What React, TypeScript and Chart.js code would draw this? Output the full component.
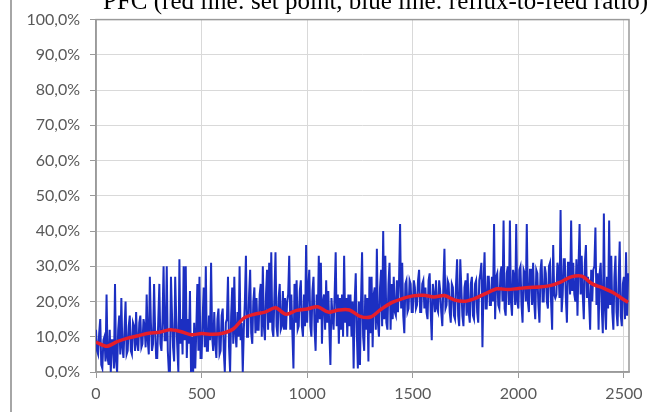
import { useEffect, useRef } from "react";
import { Chart, registerables } from "chart.js";

Chart.register(...registerables);

const TITLE = "PFC (red line: set point, blue line: reflux-to-feed ratio)";

// Reflux-to-feed ratio (%), one sample every X_STEP time units starting at 0
const X_STEP = 5;
const refluxRatio = [
  12, 6, 5, 11, 15, 2, 1, 9, 10, 3, 22, 4, 2, 12, 0, 9, 9, 1, 25, 3,
  0, 12, 16, 5, 21, 7, 4, 12, 20, 5, 6, 13, 16, 6, 5, 14, 13, 6, 17, 8,
  6, 14, 16, 7, 8, 15, 13, 7, 22, 9, 5, 27, 14, 6, 8, 25, 12, 4, 4, 15,
  25, 8, 6, 15, 30, 9, 9, 30, 6, 0, 0, 27, 16, 7, 3, 27, 15, 7, 0, 32,
  8, 15, 5, 30, 9, 30, 4, 15, 8, 23, 0, 10, 0, 14, 1, 12, 25, 6, 27, 4,
  4, 15, 24, 7, 30, 6, 6, 16, 9, 31, 10, 6, 17, 8, 4, 15, 18, 5, 6, 16,
  18, 6, 0, 14, 15, 27, 7, 0, 16, 24, 8, 27, 11, 7, 17, 10, 30, 9, 14, 0,
  12, 20, 33, 10, 10, 22, 29, 11, 8, 20, 24, 11, 21, 12, 12, 22, 25, 10, 30, 13,
  9, 22, 29, 12, 31, 14, 34, 12, 10, 22, 34, 13, 10, 21, 25, 12, 13, 23, 12, 21,
  12, 20, 22, 33, 12, 22, 11, 1, 25, 14, 26, 12, 13, 23, 26, 13, 10, 22, 13, 36,
  14, 24, 29, 13, 10, 23, 27, 12, 6, 22, 14, 33, 15, 31, 8, 20, 22, 12, 26, 14,
  23, 12, 2, 21, 16, 12, 22, 34, 13, 22, 8, 21, 12, 22, 10, 33, 14, 21, 10, 22,
  13, 22, 10, 20, 1, 20, 28, 11, 1, 20, 2, 20, 34, 10, 6, 22, 12, 21, 3, 27,
  11, 27, 7, 22, 24, 12, 35, 14, 10, 24, 29, 13, 40, 15, 33, 14, 12, 25, 31, 12,
  25, 15, 27, 17, 16, 26, 17, 26, 42, 18, 31, 16, 11, 25, 26, 17, 18, 26, 25, 17,
  17, 26, 24, 18, 19, 26, 29, 17, 17, 25, 26, 18, 24, 17, 15, 26, 28, 17, 9, 25,
  22, 17, 26, 18, 17, 26, 23, 17, 13, 25, 35, 18, 19, 26, 25, 17, 14, 25, 24, 16,
  15, 25, 32, 16, 13, 32, 24, 16, 13, 24, 26, 16, 28, 17, 14, 25, 27, 16, 15, 25,
  26, 17, 14, 26, 28, 31, 7, 25, 34, 18, 18, 27, 27, 19, 19, 27, 20, 42, 15, 27,
  28, 19, 18, 28, 30, 20, 43, 18, 16, 28, 30, 19, 43, 20, 16, 29, 27, 19, 42, 20,
  18, 29, 30, 19, 14, 29, 28, 20, 42, 20, 17, 29, 29, 19, 31, 20, 15, 29, 28, 19,
  14, 29, 32, 20, 20, 30, 28, 20, 18, 30, 31, 20, 12, 36, 22, 21, 22, 31, 29, 21,
  46, 17, 22, 32, 32, 21, 14, 31, 31, 22, 43, 23, 31, 22, 20, 32, 16, 30, 42, 22,
  33, 22, 15, 31, 36, 21, 27, 20, 12, 29, 20, 29, 30, 41, 19, 28, 12, 28, 31, 18,
  11, 45, 18, 12, 27, 18, 43, 19, 33, 17, 12, 27, 33, 17, 13, 26, 37, 16, 13, 25,
  27, 15, 34, 16, 28,
];

// Set point (%), sampled at setPointX
const setPointX = [
  0, 50, 100, 150, 200, 250, 300, 350, 400, 450,
  500, 550, 600, 650, 700, 750, 800, 850, 900, 950,
  1000, 1050, 1100, 1150, 1200, 1250, 1300, 1350, 1400, 1450,
  1500, 1550, 1600, 1650, 1700, 1750, 1800, 1850, 1900, 1950,
  2000, 2050, 2100, 2150, 2200, 2250, 2300, 2350, 2400, 2450,
  2500, 2520,
];
const setPointY = [
  8.5, 7.3, 8.6, 9.6, 10.3, 11.0, 11.3, 12.0, 11.5, 10.6,
  10.9, 10.7, 11.0, 12.2, 15.3, 16.4, 17.0, 18.2, 16.4, 17.5,
  17.9, 18.5, 17.0, 17.6, 17.6, 15.8, 15.6, 17.8, 19.7, 20.8,
  21.6, 21.8, 21.3, 21.7, 20.4, 20.1, 21.0, 22.4, 23.6, 23.4,
  23.7, 24.0, 24.1, 24.5, 25.5, 27.0, 27.2, 25.0, 23.9, 22.5,
  20.5, 19.8,
];

const X_MAX = 2524;
const X_TICKS = [0, 500, 1000, 1500, 2000, 2500];
const Y_MAX = 100;
const Y_TICK_STEP = 10;

const LABEL_FONT = { family: "Lato, 'Open Sans', sans-serif", size: 16 };
const LABEL_COLOR = "#595959";

const framePlugin = {
  id: "frame",
  beforeDatasetsDraw(chart: any) {
    const { ctx, chartArea } = chart;
    ctx.save();
    ctx.strokeStyle = "#9a9a9a";
    ctx.lineWidth = 1.5;
    ctx.strokeRect(
      chartArea.left,
      chartArea.top,
      chartArea.right - chartArea.left,
      chartArea.bottom - chartArea.top
    );
    ctx.restore();
  },
  afterDraw(chart: any) {
    const { ctx, height } = chart;
    ctx.save();
    // outer left edge of the chart box
    ctx.strokeStyle = "#a6a6a6";
    ctx.lineWidth = 2;
    ctx.beginPath();
    ctx.moveTo(11, 0);
    ctx.lineTo(11, height);
    ctx.stroke();
    // heading
    ctx.fillStyle = "#000";
    ctx.font = "25px 'Liberation Serif', 'Times New Roman', serif";
    ctx.textAlign = "left";
    ctx.textBaseline = "alphabetic";
    ctx.fillText(TITLE, 103, 9);
    ctx.restore();
  },
};

export default function App() {
  const canvasRef = useRef<HTMLCanvasElement | null>(null);

  useEffect(() => {
    const canvas = canvasRef.current;
    if (!canvas) return;
    const chart = new Chart(canvas, {
      type: "line",
      data: {
        datasets: [
          {
            label: "Set point",
            data: setPointX.map((x, i) => ({ x, y: setPointY[i] })),
            borderColor: "#e61e2a",
            borderWidth: 3.5,
            pointRadius: 0,
            tension: 0.3,
          },
          {
            label: "Reflux-to-feed ratio",
            data: refluxRatio.map((y, i) => ({ x: i * X_STEP, y })),
            borderColor: "#1c2fc2",
            borderWidth: 2,
            pointRadius: 0,
            tension: 0,
          },
        ],
      },
      options: {
        animation: false,
        responsive: false,
        maintainAspectRatio: false,
        events: [],
        layout: { padding: { left: 0, right: 35, top: 18, bottom: 0 } },
        plugins: {
          legend: { display: false },
          tooltip: { enabled: false },
          title: { display: false },
        },
        scales: {
          x: {
            type: "linear",
            min: 0,
            max: X_MAX,
            afterFit(scale: any) {
              scale.height = 40;
            },
            afterBuildTicks(scale: any) {
              scale.ticks = X_TICKS.map((value) => ({ value }));
            },
            ticks: {
              font: LABEL_FONT,
              color: LABEL_COLOR,
              padding: 6,
              maxRotation: 0,
              autoSkip: false,
              callback: (v: any) => String(v),
            },
            grid: {
              color: "#d9d9d9",
              lineWidth: 1,
              tickLength: 6,
              tickColor: "#9a9a9a",
            },
            border: { color: "#9a9a9a", width: 1.5 },
          },
          y: {
            min: 0,
            max: Y_MAX,
            afterFit(scale: any) {
              scale.width = 96;
            },
            ticks: {
              stepSize: Y_TICK_STEP,
              font: LABEL_FONT,
              color: LABEL_COLOR,
              padding: 10,
              callback: (v: any) => `${Number(v).toFixed(1).replace(".", ",")}%`,
            },
            grid: {
              color: "#d9d9d9",
              lineWidth: 1,
              tickLength: 6,
              tickColor: "#9a9a9a",
            },
            border: { color: "#9a9a9a", width: 1.5 },
          },
        },
      },
      plugins: [framePlugin],
    });
    return () => chart.destroy();
  }, []);

  return (
    <div style={{ position: "fixed", left: 0, top: 0, width: 664, height: 412, background: "#fff" }}>
      <canvas ref={canvasRef} width={664} height={412} style={{ display: "block" }} />
    </div>
  );
}
